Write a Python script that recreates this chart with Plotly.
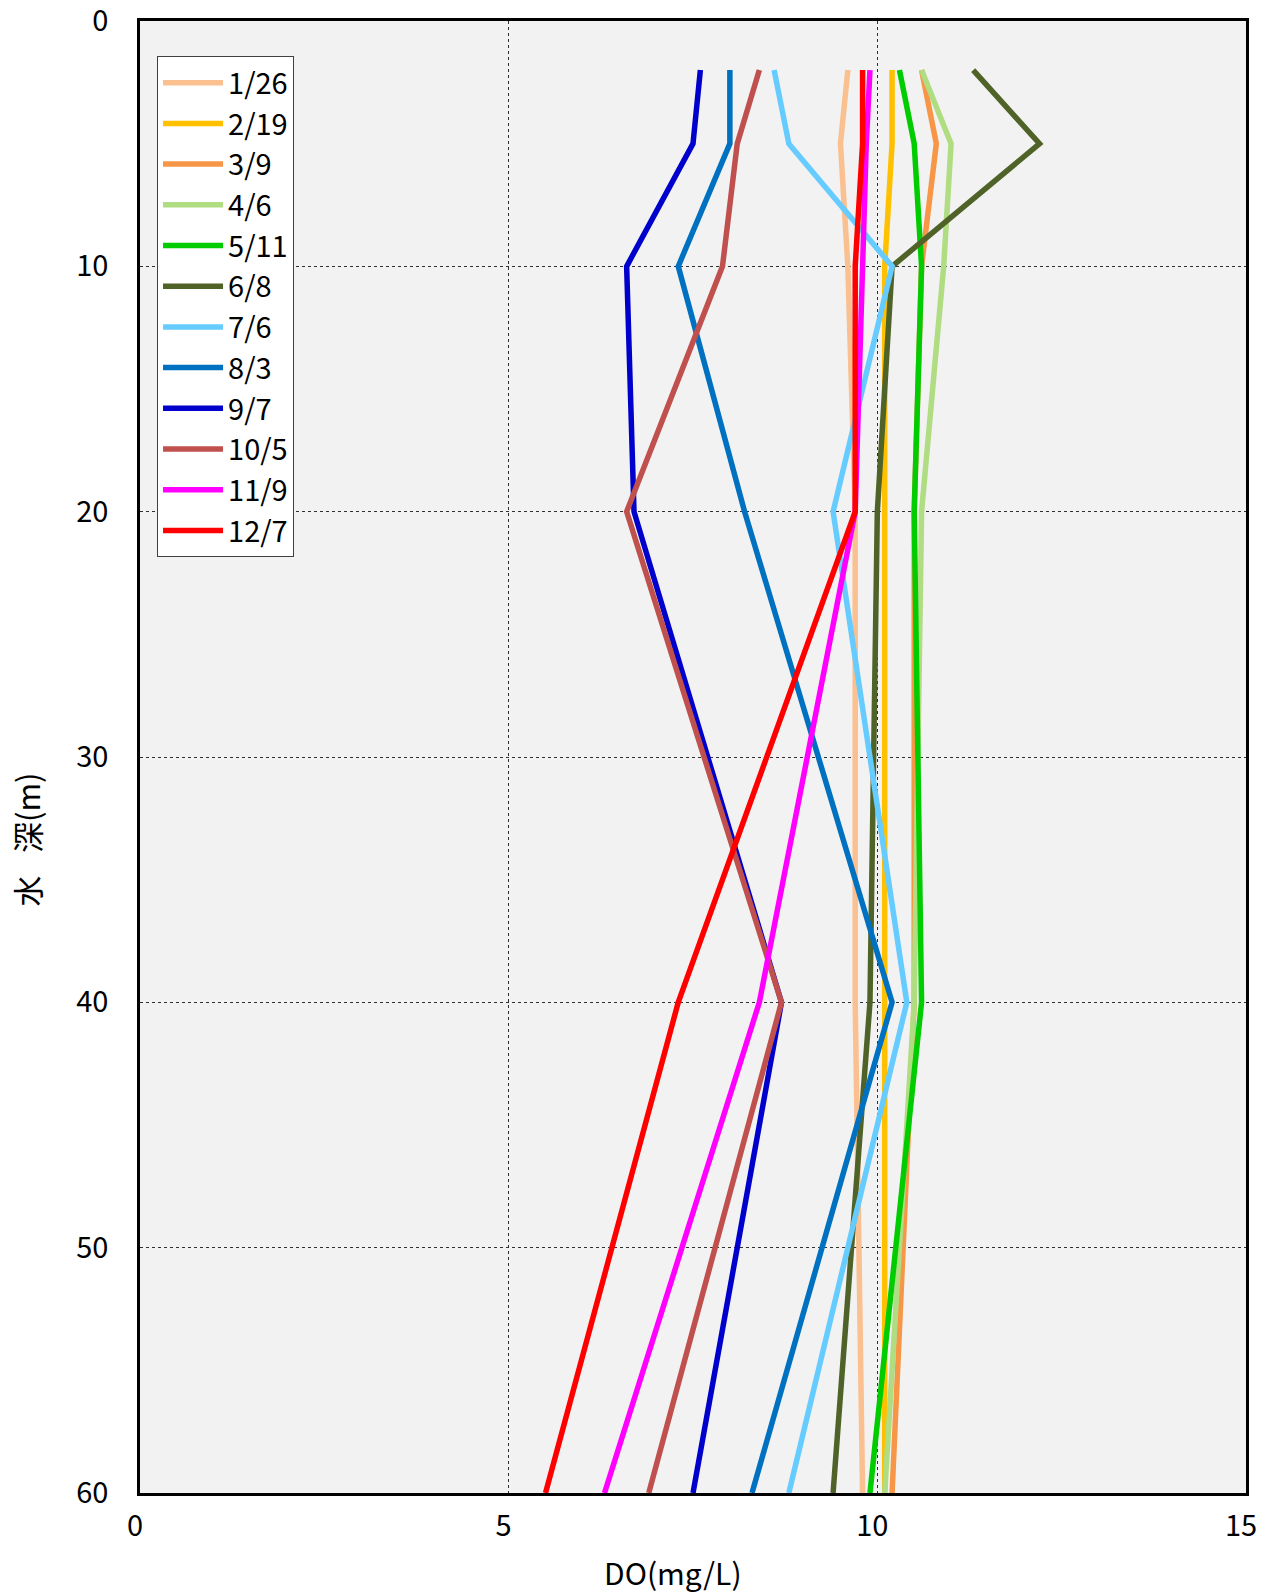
import plotly.graph_objects as go

depths = [2, 5, 10, 20, 40, 60]
dates = ["1/26", "2/19", "3/9", "4/6", "5/11", "6/8", "7/6", "8/3", "9/7", "10/5", "11/9", "12/7"]
do_0126 = [9.6, 9.5, 9.6, 9.7, 9.7, 9.8]
do_0219 = [10.2, 10.2, 10.1, 10.1, 10.1, 10.1]
do_0309 = [10.6, 10.8, 10.6, 10.5, 10.5, 10.2]
do_0406 = [10.6, 11.0, 10.9, 10.6, 10.5, 10.1]
do_0511 = [10.3, 10.5, 10.6, 10.5, 10.6, 9.9]
do_0608 = [11.3, 12.2, 10.2, 10.0, 9.9, 9.4]
do_0706 = [8.6, 8.8, 10.2, 9.4, 10.4, 8.8]
do_0803 = [8.0, 8.0, 7.3, 8.2, 10.2, 8.3]
do_0907 = [7.6, 7.5, 6.6, 6.7, 8.7, 7.5]
do_1005 = [8.4, 8.1, 7.9, 6.6, 8.7, 6.9]
do_1109 = [9.9, 9.85, 9.8, 9.7, 8.4, 6.3]
do_1207 = [9.8, 9.8, 9.7, 9.7, 7.3, 5.5]
series = [do_0126, do_0219, do_0309, do_0406, do_0511, do_0608,
          do_0706, do_0803, do_0907, do_1005, do_1109, do_1207]
colors = ["#FAC090", "#FFC000", "#F79646", "#B0DC82", "#00CC00", "#4F6228",
          "#66CCFF", "#0070C0", "#0000CC", "#C0504D", "#FF00FF", "#FF0000"]

FONT = "Noto Sans CJK JP"
fig = go.Figure()
for name, vals, c in zip(dates, series, colors):
    fig.add_trace(go.Scatter(x=vals, y=depths, mode="lines", name=name,
                             line=dict(color=c, width=5.5)))

fig.update_layout(
    width=1267, height=1593,
    margin=dict(l=140, r=21, t=21, b=100, autoexpand=False),
    paper_bgcolor="white", plot_bgcolor="#F2F2F2",
    font=dict(family=FONT, color="black"),
    showlegend=True,
    legend=dict(x=0.0154, y=0.976, xanchor="left", yanchor="top",
                bgcolor="white", bordercolor="#404040", borderwidth=1,
                font=dict(family=FONT, size=29, color="black"),
                tracegroupgap=0, itemwidth=60),
    xaxis=dict(range=[0, 15], dtick=5, tick0=0, showgrid=True,
               gridcolor="#303030", griddash="dot", gridwidth=1,
               showline=True, mirror=True, linecolor="black", linewidth=2.5,
               zeroline=False, ticks="", ticklabelstandoff=5, ticklabelshift=-5,
               ticklabeloverflow="allow", automargin=False,
               tickfont=dict(family=FONT, size=29, color="black")),
    yaxis=dict(range=[60, 0], dtick=10, tick0=0, showgrid=True,
               gridcolor="#303030", griddash="dot", gridwidth=1,
               showline=True, mirror=True, linecolor="black", linewidth=2.5,
               zeroline=False, ticks="", ticklabelstandoff=23,
               ticklabeloverflow="allow", automargin=False,
               tickfont=dict(family=FONT, size=29, color="black")),
    annotations=[
        dict(text="DO(mg/L)", xref="paper", yref="paper", x=0.482, y=-0.0537,
             xanchor="center", yanchor="middle", showarrow=False,
             font=dict(family=FONT, size=30, color="black")),
        dict(text="水\u2002 深(m)", xref="paper", yref="paper", x=-0.103, y=0.444,
             xanchor="center", yanchor="middle", showarrow=False, textangle=-90,
             font=dict(family=FONT, size=31, color="black")),
    ],
)
fig.write_html("out.html", config={"displayModeBar": False},
               post_script="document.body.style.margin='0';document.body.style.overflow='hidden';")
